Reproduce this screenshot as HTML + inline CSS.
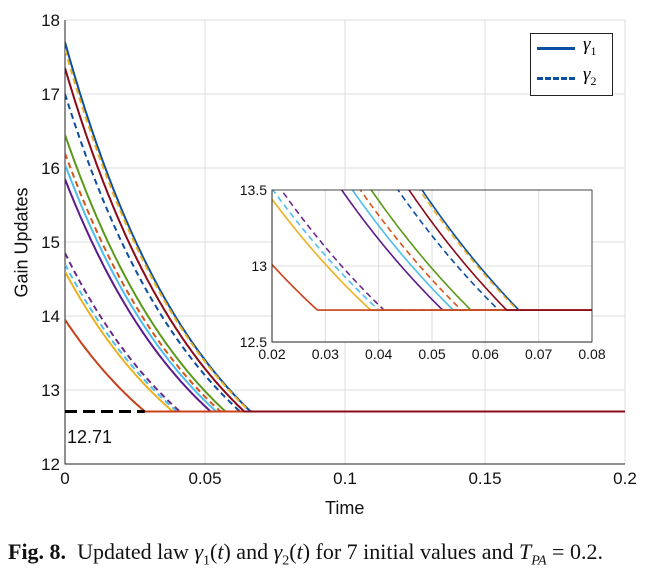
<!DOCTYPE html>
<html><head><meta charset="utf-8"><style>
body{margin:0;background:#fff;width:668px;height:580px;overflow:hidden;font-family:"Liberation Sans",sans-serif}
svg{position:absolute;left:0;top:0}
</style></head><body>
<svg id="chart" width="668" height="580">
<defs>
<clipPath id="cm"><rect x="65" y="20" width="560" height="444"/></clipPath>
<clipPath id="ci"><rect x="272" y="190" width="320" height="152"/></clipPath>
</defs>
</svg>
<script>
const initialValues=[17.7,17.6,17.35,17.0,16.45,16.2,16.05,15.85,14.85,14.7,14.6,13.95];
const settleTimes=[0.0663,0.066,0.064,0.0625,0.0573,0.0555,0.054,0.052,0.041,0.040,0.0385,0.0285];
const seriesColors=['#0b4ea2','#edb120','#8b0a1a','#0b4ea2','#5a9a1a','#d95319','#4dbeee','#5c1a8a','#6b2a8a','#4dbeee','#edb120','#c8401a'];
const seriesDashed=[false,true,false,true,false,true,false,false,true,true,false,false];
const finalValue=12.71;
const xTicks=[0,0.05,0.1,0.15,0.2];const xTickLabels=['0','0.05','0.1','0.15','0.2'];
const yTicks=[12,13,14,15,16,17,18];
const insetXTicks=[0.02,0.03,0.04,0.05,0.06,0.07,0.08];const insetYTicks=[12.5,13,13.5];
const NS='http://www.w3.org/2000/svg',svg=document.getElementById('chart');
function el(t,a,p){const e=document.createElementNS(NS,t);for(const k in a)e.setAttribute(k,a[k]);(p||svg).appendChild(e);return e;}
const K=20;
function val(i,t){const T=settleTimes[i];if(t>=T)return finalValue;return finalValue+(initialValues[i]-finalValue)*(Math.exp(K*(T-t))-1)/(Math.exp(K*T)-1);}
function axes(X,Y,x0,x1,y0,y1,xt,xl,yt,fs,name){
 const g=el('g',{});
 el('rect',{x:X(x0),y:Y(y1),width:X(x1)-X(x0),height:Y(y0)-Y(y1),fill:'#fff'},g);
 xt.forEach((v,i)=>{el('line',{x1:X(v),x2:X(v),y1:Y(y0),y2:Y(y1),stroke:'#dcdcdc'},g);
  const t=el('text',{x:X(v),y:Y(y0)+fs+3,'font-size':fs,'text-anchor':'middle',fill:'#111'},g);t.textContent=xl[i];});
 yt.forEach(v=>{el('line',{x1:X(x0),x2:X(x1),y1:Y(v),y2:Y(v),stroke:'#dcdcdc'},g);
  const t=el('text',{x:X(x0)-5,y:Y(v)+fs*0.35,'font-size':fs,'text-anchor':'end',fill:'#111'},g);t.textContent=String(v);});
 el('path',{d:`M${X(x0)} ${Y(y1)}V${Y(y0)}H${X(x1)}`,stroke:'#222',fill:'none','stroke-width':1},g);
 return g;}
const drawOrder=[0,1,3,4,5,6,7,8,9,10,11,2];
function series(X,t0,t1,clip,sw,name){
 const g=el('g',{'clip-path':`url(#${clip})`});
 drawOrder.forEach(i=>{let d='';for(let k=0;k<=300;k++){const t=t0+(t1-t0)*k/300;d+=(k?'L':'M')+X(t).toFixed(1)+' '+Yc(t,i);}
  const p=el('path',{d:d,fill:'none',stroke:seriesColors[i],'stroke-width':sw,'stroke-dasharray':seriesDashed[i]?'6,4':'none'},g);
  });
 return g;}
const MX=v=>65+v/0.2*560,MY=v=>464-(v-12)*74;
axes(MX,MY,0,0.2,12,18,xTicks,xTickLabels,yTicks,17,'main-axes');
let Yc=(t,i)=>MY(val(i,t)).toFixed(1);
series(MX,0,0.2,'cm',2,'main-series');
const bl=el('line',{x1:MX(0),x2:MX(settleTimes[11]),y1:MY(finalValue),y2:MY(finalValue),stroke:'#000','stroke-width':3,'stroke-dasharray':'12,6'});

const fl=el('text',{x:67,y:443,'font-size':18,fill:'#111'});fl.textContent='12.71';

const IX=v=>272+(v-0.02)/0.06*320,IY=v=>342-(v-12.5)*152;
axes(IX,IY,0.02,0.08,12.5,13.5,insetXTicks,insetXTicks.map(String),insetYTicks,14,'inset-axes');
Yc=(t,i)=>IY(val(i,t)).toFixed(1);
series(IX,0.02,0.08,'ci',1.6,'inset-series');
el('rect',{x:272,y:190,width:320,height:152,fill:'none',stroke:'#222','stroke-width':0.8});
</script>
<div style="position:absolute;left:-40px;top:232px;width:124px;text-align:center;font-size:18px;transform:rotate(-90deg);color:#111">Gain Updates</div>
<div style="position:absolute;left:325px;top:498px;font-size:18px;color:#111">Time</div>
<div style="position:absolute;left:530px;top:33px;width:81px;height:61px;border:1px solid #222;background:#fff;font-family:'Liberation Serif',serif;font-style:italic;font-size:19px">
 <div style="position:absolute;left:6px;top:13px;width:38px;border-top:3px solid #0b4ea2"></div>
 <div style="position:absolute;left:52px;top:0px">γ<sub style="font-size:12px;font-style:normal">1</sub></div>
 <div style="position:absolute;left:6px;top:43px;width:38px;border-top:3px dashed #0b4ea2"></div>
 <div style="position:absolute;left:52px;top:30px">γ<sub style="font-size:12px;font-style:normal">2</sub></div>
</div>
<div style="position:absolute;left:8px;top:539px;font-family:'Liberation Serif',serif;font-size:22px;color:#111;white-space:nowrap"><b>Fig. 8.</b>&nbsp; Updated law <i>γ</i><sub style="font-size:14px">1</sub>(<i>t</i>) and <i>γ</i><sub style="font-size:14px">2</sub>(<i>t</i>) for 7 initial values and <i>T<sub style="font-size:14px">PA</sub></i> = 0.2.</div>
</body></html>
